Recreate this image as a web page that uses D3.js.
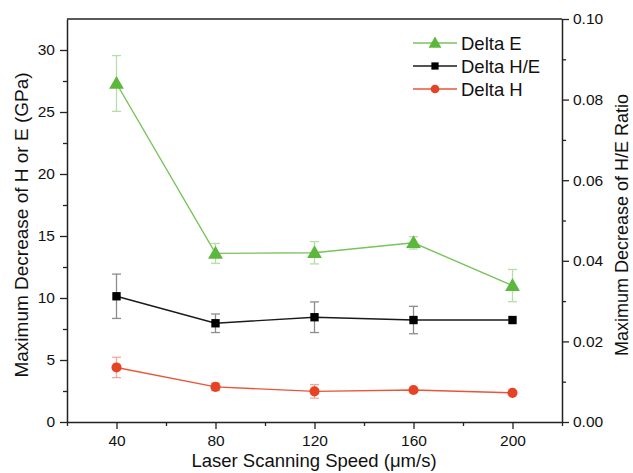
<!DOCTYPE html>
<html>
<head>
<meta charset="utf-8">
<script src="https://cdn.jsdelivr.net/npm/d3@7"></script>
<style>
  html, body { margin: 0; padding: 0; background: #fff; }
  svg { display: block; }
  text { font-family: "Liberation Sans", Arial, sans-serif; fill: #111; }
</style>
</head>
<body>
<svg id="chart" width="633" height="473"></svg>
<script>
// Laser scanning speed (µm/s)
const speeds = [40, 80, 120, 160, 200];

// Maximum decrease of elastic modulus E (GPa) with error
const deltaE = [27.3, 13.6, 13.65, 14.45, 11.0];
const deltaEErr = [2.25, 0.8, 0.9, 0.5, 1.3];

// Maximum decrease of hardness H (GPa) with error
const deltaH = [4.4, 2.83, 2.47, 2.58, 2.35];
const deltaHErr = [0.82, 0.3, 0.55, 0.15, 0];

// Maximum decrease of H/E ratio (right axis) with error
const deltaHE = [0.0312, 0.0245, 0.0260, 0.0253, 0.0253];
const deltaHEErr = [0.0055, 0.0023, 0.0038, 0.0034, 0];

const xTicks = [40, 80, 120, 160, 200];
const yLeftTicks = [0, 5, 10, 15, 20, 25, 30];
const yRightTicks = [0, 0.02, 0.04, 0.06, 0.08, 0.10];

const W = 633, H = 473;
const margin = { top: 19, right: 71, bottom: 51, left: 67 };
const iw = W - margin.left - margin.right;
const ih = H - margin.top - margin.bottom;

const svg = d3.select("#chart");
const g = svg.append("g").attr("transform", `translate(${margin.left},${margin.top})`);

const x = d3.scaleLinear().domain([20, 220]).range([0, iw]);
const yL = d3.scaleLinear().domain([0, 32.5]).range([ih, 0]);
const yR = d3.scaleLinear().domain([0, 0.1]).range([ih, 0]);

const axisColor = "#222";

// frame top edge
g.append("line").attr("x1", 0).attr("x2", iw).attr("y1", 0).attr("y2", 0)
  .attr("stroke", axisColor).attr("stroke-width", 1.5);

function styleAxis(sel) {
  sel.select(".domain").attr("stroke", axisColor).attr("stroke-width", 1.5);
  sel.selectAll(".tick line").attr("stroke", axisColor).attr("stroke-width", 1.3);
  sel.selectAll(".tick text").style("font-size", "15.5px").attr("fill", "#111");
}

// minor ticks
const xMinor = d3.range(20, 221, 20).filter(v => !xTicks.includes(v));
g.append("g").attr("transform", `translate(0,${ih})`)
  .call(d3.axisBottom(x).tickValues(xMinor).tickSize(4).tickFormat("").tickSizeOuter(0))
  .call(s => { s.select(".domain").remove(); s.selectAll("line").attr("stroke", axisColor).attr("stroke-width", 1.3); });
const yLMinor = d3.range(2.5, 32.5, 5);
g.append("g")
  .call(d3.axisLeft(yL).tickValues(yLMinor).tickSize(4).tickFormat("").tickSizeOuter(0))
  .call(s => { s.select(".domain").remove(); s.selectAll("line").attr("stroke", axisColor).attr("stroke-width", 1.3); });
const yRMinor = [0.01, 0.03, 0.05, 0.07, 0.09];
g.append("g").attr("transform", `translate(${iw},0)`)
  .call(d3.axisRight(yR).tickValues(yRMinor).tickSize(4).tickFormat("").tickSizeOuter(0))
  .call(s => { s.select(".domain").remove(); s.selectAll("line").attr("stroke", axisColor).attr("stroke-width", 1.3); });

// major axes
g.append("g").attr("transform", `translate(0,${ih})`)
  .call(d3.axisBottom(x).tickValues(xTicks).tickSize(7).tickSizeOuter(0).tickPadding(6))
  .call(styleAxis);
g.append("g")
  .call(d3.axisLeft(yL).tickValues(yLeftTicks).tickSize(7).tickSizeOuter(0).tickPadding(5))
  .call(styleAxis);
g.append("g").attr("transform", `translate(${iw},0)`)
  .call(d3.axisRight(yR).tickValues(yRightTicks).tickFormat(d3.format(".2f")).tickSize(7).tickSizeOuter(0).tickPadding(4))
  .call(styleAxis);

// axis titles
svg.append("text")
  .attr("x", 314).attr("y", 467)
  .attr("text-anchor", "middle").style("font-size", "18.5px")
  .text("Laser Scanning Speed (μm/s)");
svg.append("text")
  .attr("transform", `translate(28,${225}) rotate(-90)`)
  .attr("text-anchor", "middle").style("font-size", "19px")
  .text("Maximum Decrease of H or E (GPa)");
svg.append("text")
  .attr("transform", `translate(628,${225}) rotate(-90)`)
  .attr("text-anchor", "middle").style("font-size", "18px")
  .text("Maximum Decrease of H/E Ratio");

const series = [
  { name: "Delta E", vals: deltaE, errs: deltaEErr, y: yL, line: "#78c35a", marker: "#5cb83c", err: "#b9dcaa", symbol: d3.symbolTriangle, size: 95 },
  { name: "Delta H/E", vals: deltaHE, errs: deltaHEErr, y: yR, line: "#1a1a1a", marker: "#000", err: "#8c8c8c", symbol: d3.symbolSquare, size: 70 },
  { name: "Delta H", vals: deltaH, errs: deltaHErr, y: yL, line: "#e8553a", marker: "#e64325", err: "#f1a99c", symbol: d3.symbolCircle, size: 80 }
];

series.forEach(s => {
  const pts = speeds.map((sp, i) => ({ x: sp, v: s.vals[i], e: s.errs[i] }));
  const eg = g.append("g");
  pts.filter(p => p.e > 0).forEach(p => {
    const cx = x(p.x), y1 = s.y(p.v - p.e), y2 = s.y(p.v + p.e);
    eg.append("line").attr("x1", cx).attr("x2", cx).attr("y1", y1).attr("y2", y2)
      .attr("stroke", s.err).attr("stroke-width", 1.3);
    [y1, y2].forEach(yy => eg.append("line").attr("x1", cx - 4.5).attr("x2", cx + 4.5)
      .attr("y1", yy).attr("y2", yy).attr("stroke", s.err).attr("stroke-width", 1.3));
  });
  g.append("path").datum(pts)
    .attr("d", d3.line().x(p => x(p.x)).y(p => s.y(p.v)))
    .attr("fill", "none").attr("stroke", s.line).attr("stroke-width", 1.4);
  g.selectAll(null).data(pts).join("path")
    .attr("transform", p => `translate(${x(p.x)},${s.y(p.v) + (s.symbol === d3.symbolTriangle ? 1 : 0)})`)
    .attr("d", d3.symbol(s.symbol, s.size))
    .attr("fill", s.marker);
});

// legend
const legend = svg.append("g").attr("transform", "translate(413,43)");
series.forEach((s, i) => {
  const row = legend.append("g").attr("transform", `translate(0,${i * 23})`);
  row.append("line").attr("x1", 0).attr("x2", 44).attr("y1", 0).attr("y2", 0)
    .attr("stroke", s.line).attr("stroke-width", 1.4);
  row.append("path").attr("transform", `translate(22,${s.symbol === d3.symbolTriangle ? 1 : 0})`)
    .attr("d", d3.symbol(s.symbol, s.size * 0.75)).attr("fill", s.marker);
  row.append("text").attr("x", 48).attr("y", 6.5).style("font-size", "18.5px").text(s.name);
});
</script>
</body>
</html>
